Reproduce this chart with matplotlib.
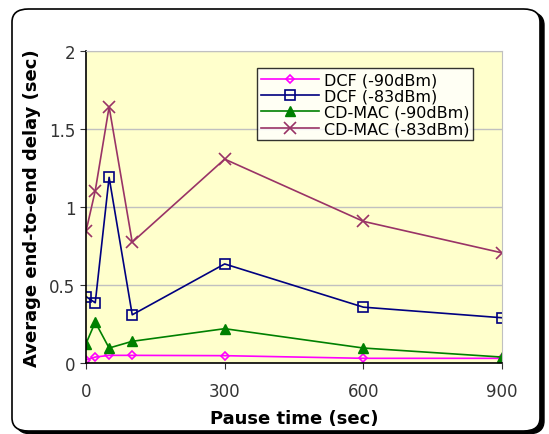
import matplotlib
matplotlib.use('Agg')
import matplotlib.pyplot as plt
from matplotlib.patches import FancyBboxPatch

pause = [0, 20, 50, 100, 300, 600, 900]
dcf_90 = [0.02, 0.038, 0.049, 0.049, 0.047, 0.03, 0.03]
dcf_83 = [0.426, 0.386, 1.19, 0.309, 0.635, 0.358, 0.29]
cd_90 = [0.124, 0.262, 0.096, 0.139, 0.22, 0.096, 0.038]
cd_83 = [0.844, 1.104, 1.642, 0.774, 1.307, 0.908, 0.706]

fig = plt.figure(figsize=(5.49, 4.35), dpi=100)

# rounded frame with shadow
W, H = 549, 435
shadow = FancyBboxPatch((16 / W, 0 / H), 528 / W, 422 / H,
                        boxstyle='round,pad=0,rounding_size=0.03',
                        transform=fig.transFigure, facecolor='black',
                        edgecolor='black', zorder=0)
frame = FancyBboxPatch((12 / W, 3 / H), 528 / W, 422 / H,
                       boxstyle='round,pad=0,rounding_size=0.03',
                       transform=fig.transFigure, facecolor='white',
                       edgecolor='black', linewidth=1.2, zorder=1)
fig.patches.extend([shadow, frame])

ax = fig.add_axes([86 / W, 71 / H, 416 / W, 312 / H])
ax.set_zorder(2)
ax.set_facecolor('#FFFFCC')

ax.plot(pause, dcf_90, color='#FF00FF', marker='D', markersize=4.5,
        markerfacecolor='none', markeredgewidth=1.2, linewidth=1.2, label='DCF (-90dBm)')
ax.plot(pause, dcf_83, color='#000080', marker='s', markersize=7.5,
        markerfacecolor='none', markeredgewidth=1.2, linewidth=1.2, label='DCF (-83dBm)')
ax.plot(pause, cd_90, color='#008000', marker='^', markersize=7,
        linewidth=1.2, label='CD-MAC (-90dBm)')
ax.plot(pause, cd_83, color='#993366', marker='x', markersize=8,
        markeredgewidth=1.2, linewidth=1.2, label='CD-MAC (-83dBm)')

ax.set_xlim(0, 900)
ax.set_ylim(0, 2)
ax.set_xticks([0, 300, 600, 900])
ax.set_yticks([0, 0.5, 1, 1.5, 2])
ax.set_yticklabels(['0', '0.5', '1', '1.5', '2'])
ax.grid(axis='y', color='#C0C0C0', linewidth=1)
ax.set_axisbelow(True)
ax.tick_params(labelsize=12, colors='#333333', length=4, labelcolor='#333333')
ax.tick_params(axis='x', pad=10)
for s in ['top', 'right']:
    ax.spines[s].set_color('#C0C0C0')
for s in ['left', 'bottom']:
    ax.spines[s].set_color('black')
    ax.spines[s].set_linewidth(1.2)

ax.set_xlabel('Pause time (sec)', fontsize=13, fontweight='bold', labelpad=6)
ax.set_ylabel('Average end-to-end delay (sec)', fontsize=13, fontweight='bold', labelpad=6)

leg = ax.legend(loc='upper right', bbox_to_anchor=(0.95, 0.97), fontsize=11.5,
                frameon=True, fancybox=False, handlelength=3.6, borderpad=0.25,
                labelspacing=0.08, handletextpad=0.3)
leg.get_frame().set_edgecolor('black')
leg.get_frame().set_facecolor('white')
leg.get_frame().set_linewidth(1)

fig.savefig('out.png', dpi=100)
